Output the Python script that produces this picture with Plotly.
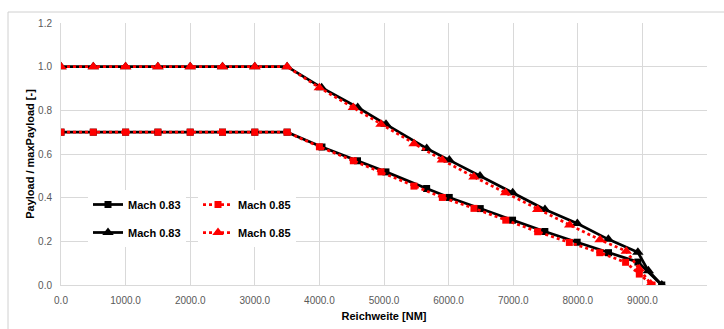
import plotly.graph_objects as go

# ---- data ----
flat_x = [0, 500, 1000, 1500, 2000, 2500, 3000, 3500]

sq83_x = flat_x + [4040, 4590, 5030, 5660, 6010, 6490, 6990, 7490, 7990, 8475, 8930, 9300]
sq83_y = [0.7] * 8 + [0.632, 0.569, 0.518, 0.442, 0.401, 0.350, 0.297, 0.245, 0.196, 0.148, 0.105, 0.0]

tri83_x = flat_x + [4035, 4593, 5031, 5661, 6011, 6486, 6992, 7492, 7993, 8473, 8930, 9092, 9300]
tri83_y = [1.0] * 8 + [0.904, 0.813, 0.736, 0.625, 0.572, 0.499, 0.422, 0.346, 0.282, 0.209, 0.150, 0.065, 0.0]

sq85_x = flat_x + [4000, 4525, 4954, 5464, 5903, 6393, 6885, 7379, 7869, 8340, 8740, 8952, 9150]
sq85_y = [0.7] * 8 + [0.633, 0.569, 0.518, 0.453, 0.401, 0.351, 0.297, 0.244, 0.195, 0.148, 0.104, 0.050, 0.0]

tri85_x = flat_x + [3999, 4525, 4954, 5465, 5903, 6393, 6883, 7379, 7875, 8344, 8750, 8950, 9130]
tri85_y = [1.0] * 8 + [0.904, 0.813, 0.736, 0.647, 0.572, 0.495, 0.422, 0.346, 0.275, 0.207, 0.155, 0.075, 0.005]

label83 = "Mach 0.83"
label85 = "Mach 0.85"
x_title = "Reichweite [NM]"
y_title = "Payload / maxPayload [-]"

FONT = "Liberation Sans"
W, H = 724, 329
ML, MR, MT, MB = 61, 17, 23, 44

fig = go.Figure()

def add(x, y, name, color, dash, symbol, legend, group):
    fig.add_trace(go.Scatter(
        x=x, y=y, name=name, mode="lines+markers",
        line=dict(color=color, width=2.75, dash=dash),
        marker=dict(symbol=symbol, size=10 if symbol == "triangle-up" else 7, color=color),
        legend=legend, legendgroup=group,
    ))

add(sq83_x, sq83_y, label83, "black", "solid", "square", "legend", "a")
add(tri83_x, tri83_y, label83, "black", "solid", "triangle-up", "legend", "b")
add(sq85_x, sq85_y, label85, "#ff0000", "dot", "square", "legend2", "c")
add(tri85_x, tri85_y, label85, "#ff0000", "dot", "triangle-up", "legend2", "d")

pw = W - ML - MR
ph = H - MT - MB

def px2paper_x(px):
    return (px - ML) / pw

def px2paper_y(py):
    return (H - MB - py) / ph

legend_common = dict(
    bgcolor="white", borderwidth=0,
    font=dict(family=FONT, size=11, color="black", weight="bold"),
    yanchor="top", xanchor="left",
    traceorder="grouped", tracegroupgap=9,
    itemwidth=30,
)

fig.update_layout(
    width=W, height=H,
    margin=dict(l=ML, r=MR, t=MT, b=MB, autoexpand=False),
    paper_bgcolor="white", plot_bgcolor="white",
    font=dict(family=FONT),
    legend=dict(x=px2paper_x(88), y=px2paper_y(190), **legend_common),
    legend2=dict(x=px2paper_x(198), y=px2paper_y(190), **legend_common),
    shapes=[dict(
        type="rect", xref="paper", yref="paper", layer="below",
        x0=px2paper_x(8), x1=px2paper_x(760),
        y0=px2paper_y(360), y1=px2paper_y(12),
        line=dict(color="#d0d0d0", width=1), fillcolor="rgba(0,0,0,0)",
    )],
)

fig.update_xaxes(
    range=[0, 10000], dtick=1000, tickformat=".1f",
    showgrid=True, gridcolor="#d9d9d9", gridwidth=1,
    showline=True, linecolor="#d9d9d9", linewidth=1, mirror=False,
    zeroline=False, ticks="", ticklabelstandoff=6, automargin=False,
    tickfont=dict(family=FONT, size=10, color="#595959"),
    title=dict(text=x_title, font=dict(family=FONT, size=11, color="black", weight="bold"), standoff=7),
)
fig.update_yaxes(
    range=[0, 1.2], dtick=0.2, tickformat=".1f",
    showgrid=True, gridcolor="#d9d9d9", gridwidth=1,
    showline=True, linecolor="#d9d9d9", linewidth=1,
    zeroline=False, ticks="", ticklabelstandoff=6, automargin=False,
    tickfont=dict(family=FONT, size=10, color="#595959"),
    title=dict(text=y_title, font=dict(family=FONT, size=11, color="black", weight="bold"), standoff=1),
)

fig.write_html("out.html")
